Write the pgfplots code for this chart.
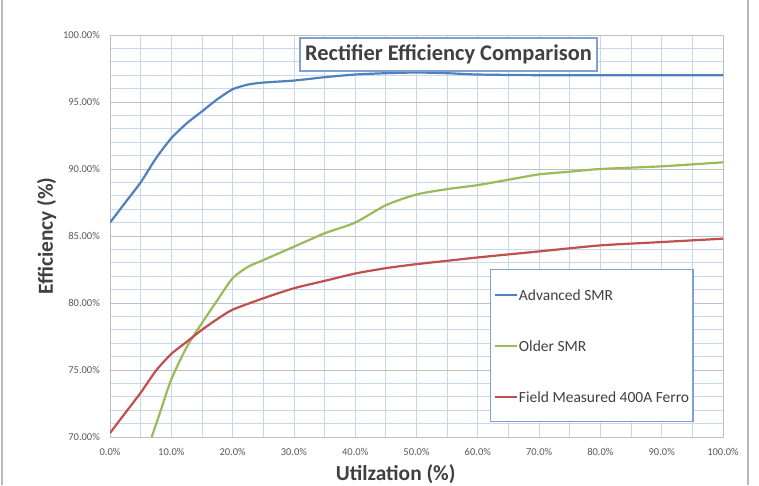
\documentclass[border=0pt]{standalone}
\usepackage{pgfplots}
\pgfplotsset{compat=1.18}
\usepackage{fontspec}
\setmainfont{Carlito}

\definecolor{smrblue}{HTML}{4F81BD}
\definecolor{smrgreen}{HTML}{9BBB59}
\definecolor{ferrored}{HTML}{C0504D}
\definecolor{gridminor}{HTML}{C9D7EE}
\definecolor{gridmajor}{HTML}{BFBFBF}
\definecolor{ticktext}{HTML}{595959}
\definecolor{darktext}{HTML}{404040}
\definecolor{boxblue}{HTML}{7FA0D0}

% Efficiency (%) against utilization (%)
\pgfplotstableread{
u    eff
0    86.0
2.5  87.5
5    89.0
7.5  90.8
10   92.3
12.5 93.4
15   94.3
17.5 95.2
20   95.95
22.5 96.3
25   96.45
30   96.6
35   96.85
40   97.05
45   97.15
50   97.2
55   97.15
60   97.05
70   97.0
80   97.0
90   97.0
100  97.0
}\advancedsmr

\pgfplotstableread{
u    eff
6.8  70.0
8    71.6
10   74.3
12.5 76.7
15   78.5
17.5 80.2
20   81.85
22.5 82.7
25   83.2
30   84.2
35   85.2
40   86.0
45   87.3
50   88.1
55   88.5
60   88.8
65   89.2
70   89.6
75   89.8
80   90.0
90   90.2
100  90.5
}\oldersmr

\pgfplotstableread{
u    eff
0    70.3
2.5  71.8
5    73.3
7.5  74.95
10   76.2
12.5 77.1
15   78.0
17.5 78.8
20   79.5
25   80.35
30   81.1
35   81.65
40   82.2
45   82.6
50   82.9
55   83.15
60   83.4
70   83.85
80   84.3
90   84.55
100  84.8
}\ferro

\begin{document}
\begin{tikzpicture}
\useasboundingbox (0pt,0pt) rectangle (759pt,485pt);
\fill[white] (0pt,0pt) rectangle (759pt,485pt);
% chart area border
\draw[gray!55, line width=1.3pt] (2pt,0pt) -- (2pt,485pt);
\draw[gray!55, line width=1.3pt] (748pt,0pt) -- (748pt,485pt);

\begin{axis}[
  at={(110pt,48pt)}, anchor=south west,
  scale only axis, width=613pt, height=402pt,
  xmin=0, xmax=100, ymin=70, ymax=100,
  xtick={0,10,...,100}, minor xtick={5,15,...,95},
  ytick={70,75,...,100}, minor ytick={71,72,73,74,76,77,78,79,81,82,83,84,86,87,88,89,91,92,93,94,96,97,98,99},
  major tick length=0pt, minor tick length=0pt,
  grid=both,
  major x grid style={gridminor, line width=0.8pt},
  minor x grid style={gridminor, line width=0.8pt},
  major y grid style={gridmajor, line width=0.9pt},
  minor y grid style={gridminor, line width=0.8pt},
  axis line style={gridmajor, line width=0.9pt},
  /pgf/number format/assume math mode=true,
  xticklabel={\pgfmathprintnumber[fixed,fixed zerofill,precision=1]{\tick}\%},
  yticklabel={\pgfmathprintnumber[fixed,fixed zerofill,precision=2]{\tick}\%},
  x tick label style={font=\fontsize{10.5}{12}\selectfont, text=ticktext, inner sep=0pt, anchor=north, yshift=-11pt},
  y tick label style={font=\fontsize{10.5}{12}\selectfont, text=ticktext, inner sep=0pt, anchor=east, xshift=-10pt},
  xlabel={Utilzation (\%)},
  xlabel style={at={(axis description cs:0.466,0)}, anchor=base, yshift=-43pt,
    font=\fontsize{21.4}{24}\selectfont\bfseries, text=darktext},
  ylabel={Efficiency (\%)},
  ylabel style={at={(axis description cs:0,0.5)}, anchor=base, yshift=57pt,
    font=\fontsize{21.4}{24}\selectfont\bfseries, text=darktext},
  legend cell align=left,
  legend image code/.code={\draw[#1, line width=2.2pt] (0pt,0pt) -- (22pt,0pt);},
  legend style={at={(axis description cs:0.620,0.418)}, anchor=north west,
    draw=boxblue, line width=1.4pt, fill=white,
    inner xsep=3pt, inner ysep=14.5pt, row sep=30pt,
    font=\fontsize{15.5}{18}\selectfont, text=darktext,
    nodes={inner sep=1pt, text height=15pt, text depth=4pt},
    /tikz/every even column/.append style={column sep=1pt}},
]
\addplot[smrblue, line width=2.2pt, smooth, tension=0.4] table[x=u, y=eff] {\advancedsmr};
\addlegendentry{Advanced SMR}
\addplot[smrgreen, line width=2.2pt, smooth, tension=0.4] table[x=u, y=eff] {\oldersmr};
\addlegendentry{Older SMR}
\addplot[ferrored, line width=2.2pt, smooth, tension=0.4] table[x=u, y=eff] {\ferro};
\addlegendentry{Field Measured 400A Ferro}
\end{axis}

% chart title box
\node[draw=boxblue, line width=1.4pt, fill=white, minimum width=297pt, minimum height=33pt,
      inner sep=0pt, text=darktext, font=\fontsize{22.4}{26}\selectfont\bfseries]
  at (448.5pt,430.5pt) {Rectifier Efficiency Comparison};
\end{tikzpicture}
\end{document}
